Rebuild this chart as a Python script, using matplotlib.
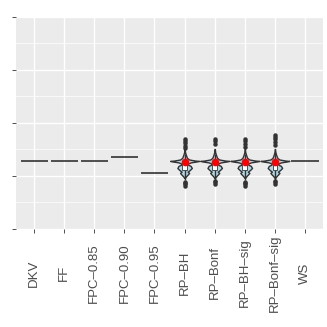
import matplotlib
matplotlib.use('Agg')
import matplotlib.pyplot as plt
import numpy as np

plt.rcParams['font.family'] = ['Liberation Sans', 'DejaVu Sans']

methods = ['DKV', 'FF', 'FPC\u20130.85', 'FPC\u20130.90', 'FPC\u20130.95',
           'RP\u2013BH', 'RP\u2013Bonf', 'RP\u2013BH\u2013sig', 'RP\u2013Bonf\u2013sig', 'WS']

# constant methods (collapsed violins)
flat_values = {'DKV': 1.28, 'FF': 1.28, 'FPC\u20130.85': 1.28,
               'FPC\u20130.90': 1.36, 'FPC\u20130.95': 1.05, 'WS': 1.28}

# violin profile shared by the RP methods: y level and half width
prof_y = [0.96, 0.98, 1.00, 1.03, 1.057, 1.08, 1.11, 1.15, 1.19, 1.21, 1.23,
          1.255, 1.273, 1.283, 1.29, 1.31, 1.34, 1.40, 1.45, 1.51]
prof_w = [0.01, 0.03, 0.06, 0.11, 0.15, 0.10, 0.17, 0.24, 0.20, 0.12, 0.10,
          0.20, 0.40, 0.48, 0.35, 0.15, 0.08, 0.04, 0.015, 0.005]

rp_mean = [1.27, 1.27, 1.27, 1.27]
rp_q1 = [1.11, 1.11, 1.11, 1.11]
rp_med = [1.25, 1.25, 1.25, 1.25]
rp_q3 = [1.27, 1.27, 1.27, 1.27]
rp_lo = [0.92, 0.93, 0.92, 0.93]
rp_hi = [1.42, 1.42, 1.42, 1.46]
rp_out = [
    [0.81, 0.84, 0.87, 0.89, 1.52, 1.57, 1.62, 1.66, 1.69],
    [0.85, 0.88, 0.90, 1.60, 1.65, 1.69],
    [0.81, 0.84, 0.87, 0.89, 1.55, 1.60, 1.65, 1.69],
    [0.85, 0.88, 0.90, 1.58, 1.64, 1.70, 1.74, 1.77],
]

fig = plt.figure(figsize=(3.27, 3.27), dpi=100)
ax = fig.add_axes([0.049, 0.30, 0.939, 0.648])
ax.set_facecolor('#EBEBEB')
for s in ax.spines.values():
    s.set_visible(False)

x = np.arange(1, len(methods) + 1)
ax.set_xlim(0.4, 10.6)
ax.set_ylim(0, 4)
ax.set_yticks([0, 1, 2, 3, 4])
ax.set_yticks([0.5, 1.5, 2.5, 3.5], minor=True)
ax.set_yticklabels([])
ax.set_xticks(x)
ax.set_xticklabels(methods, rotation=90, va='center', ha='center',
                   fontsize=9.5, color='#4D4D4D')
ax.tick_params(axis='both', which='major', length=2.7, width=0.6, color='#333333')
ax.tick_params(axis='x', pad=29)
ax.tick_params(axis='y', which='minor', length=0)
ax.grid(True, which='major', color='white', lw=1.0)
ax.grid(True, which='minor', axis='y', color='white', lw=0.5)
ax.set_axisbelow(True)

for i, m in enumerate(methods):
    if m in flat_values:
        ax.hlines(flat_values[m], x[i] - 0.45, x[i] + 0.45, color='#333333', lw=1.2, zorder=3)

py = np.array(prof_y)
pw = np.array(prof_w)
rp = [m for m in methods if m not in flat_values]
for j, m in enumerate(rp):
    xc = x[methods.index(m)]
    ax.fill_betweenx(py, xc - pw, xc + pw, facecolor='#ADD8E6', edgecolor='#333333', lw=1.0, zorder=3)
    ax.vlines(xc, rp_lo[j], rp_q1[j], color='#333333', lw=1.0, zorder=4)
    ax.vlines(xc, rp_q3[j], rp_hi[j], color='#333333', lw=1.0, zorder=4)
    ax.add_patch(plt.Rectangle((xc - 0.08, rp_q1[j]), 0.16, rp_q3[j] - rp_q1[j],
                               facecolor='white', edgecolor='#333333', lw=0.6, zorder=4))
    ax.plot([xc] * len(rp_out[j]), rp_out[j], 'o', color='#333333', ms=2.2, zorder=5)
    ax.plot(xc, rp_mean[j], 'o', color='red', ms=4.5, zorder=6)

fig.savefig('out.png', dpi=100)
